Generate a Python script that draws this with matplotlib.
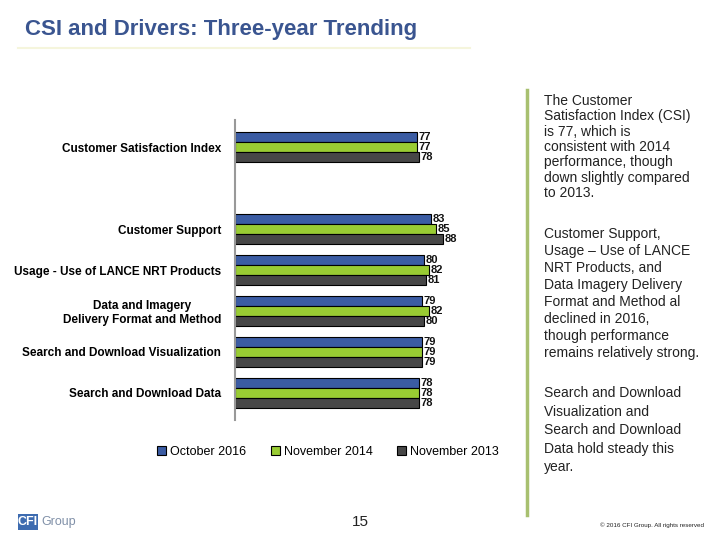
import numpy as np
import matplotlib
matplotlib.use('Agg')
import matplotlib.pyplot as plt
from matplotlib.patches import Patch, Rectangle
from matplotlib.lines import Line2D

plt.rcParams['font.family'] = ['Liberation Sans', 'DejaVu Sans']

categories = [
    'Customer Satisfaction Index',
    'Customer Support',
    'Usage - Use of LANCE NRT Products',
    'Data and Imagery\nDelivery Format and Method',
    'Search and Download Visualization',
    'Search and Download Data',
]
# slot index of each category (a blank slot after the CSI)
slots = [0, 2, 3, 4, 5, 6]
series = ['October 2016', 'November 2014', 'November 2013']
oct_2016 = [77, 83, 80, 79, 79, 78]
nov_2014 = [77, 85, 82, 82, 79, 78]
nov_2013 = [78, 88, 81, 80, 79, 78]
colors = ['#3B5CA3', '#99CC33', '#474747']

notes = [
    'The Customer\nSatisfaction Index (CSI)\nis 77, which is\nconsistent with 2014\nperformance, though\ndown slightly compared\nto 2013.',
    'Customer Support,\nUsage \u2013 Use of LANCE\nNRT Products, and\nData Imagery Delivery\nFormat and Method al\ndeclined in 2016,\nthough performance\nremains relatively strong.',
    'Search and Download\nVisualization and\nSearch and Download\nData hold steady this\nyear.',
]

fig = plt.figure(figsize=(7.2, 5.4), dpi=100)

# title
fig.text(25 / 720, 1 - 29 / 540, 'CSI and Drivers: Three-year Trending',
         fontsize=16, fontweight='bold', color='#3A5590', va='center')
fig.add_artist(Line2D([18 / 720, 470 / 720], [1 - 48 / 540] * 2,
                      color='#F5F5DC', lw=1.5))

ax = fig.add_axes([235 / 720, 1 - 420 / 540, 260 / 720, 300 / 540])
h = 0.245
y = np.array(slots, dtype=float)
for k, (vals, c) in enumerate(zip([oct_2016, nov_2014, nov_2013], colors)):
    yy = y + (k - 1) * h
    ax.barh(yy, vals, height=h, color=c, edgecolor='black', linewidth=0.8)
    for v, yv in zip(vals, yy):
        ax.text(v + 0.6, yv, str(v), va='center', ha='left',
                fontsize=8, fontweight='bold', color='#111111')

ax.set_xlim(0, 110)
ax.set_ylim(6.66, -0.66)
ax.set_xticks([])
ax.set_yticks(slots)
ax.set_yticklabels(categories, fontsize=8.5, fontweight='bold',
                   multialignment='center')
ax.tick_params(axis='y', length=0, pad=10)
for s in ['top', 'right', 'bottom']:
    ax.spines[s].set_visible(False)
ax.spines['left'].set_color('#999999')
ax.spines['left'].set_linewidth(1.5)

handles = [Patch(facecolor=c, edgecolor='black', linewidth=0.8) for c in colors]
fig.legend(handles, series, loc='center', bbox_to_anchor=(328 / 720, 1 - 452 / 540),
           ncol=3, frameon=False, handlelength=0.7, handleheight=0.7,
           handletextpad=0.3, columnspacing=2.0,
           prop={'size': 9})

# side notes
fig.add_artist(Line2D([527 / 720] * 2, [1 - 90 / 540, 1 - 515 / 540],
                      color='#A8C070', lw=2.5))
note_y = [94, 227, 386]
note_ls = [1.12, 1.27, 1.42]
for t, ny, ls in zip(notes, note_y, note_ls):
    fig.text(544 / 720, 1 - ny / 540, t, fontsize=10, color='#222222',
             va='top', ha='left', linespacing=ls)

# footer
fig.add_artist(Rectangle((18 / 720, 1 - 530 / 540), 20 / 720, 16 / 540,
                         facecolor='#3D6BB0', edgecolor='none'))
fig.text(28 / 720, 1 - 522 / 540, 'CFI', color='white', fontsize=9,
         fontweight='bold', ha='center', va='center')
fig.text(41 / 720, 1 - 522 / 540, 'Group', color='#8090A8', fontsize=9,
         ha='left', va='center')
fig.text(360 / 720, 1 - 522 / 540, '15', fontsize=11, ha='center', va='center',
         color='#222222')
fig.text(704 / 720, 1 - 525 / 540, '\u00a9 2016 CFI Group. All rights reserved',
         fontsize=4.5, ha='right', va='center', color='#222222')

fig.savefig('out.png', dpi=100)
